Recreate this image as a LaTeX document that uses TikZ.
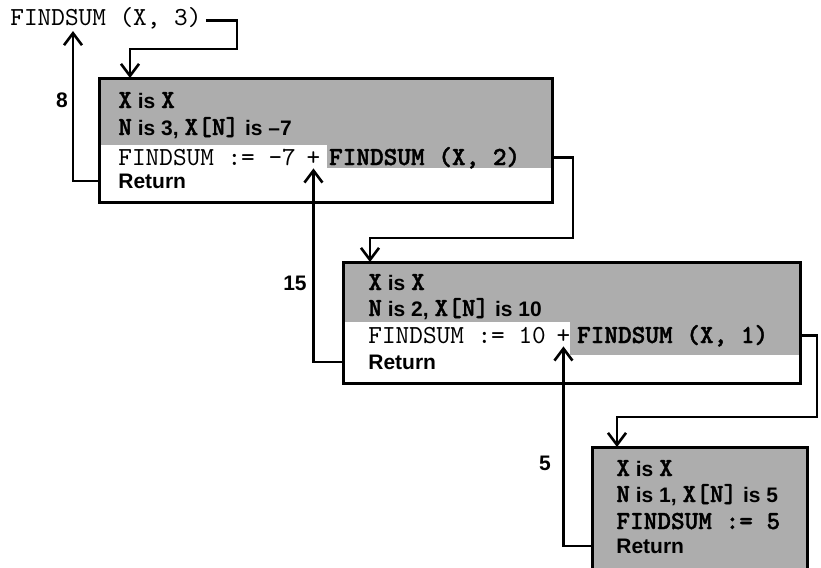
\documentclass[tikz,border=0pt]{standalone}
\usepackage{fontspec}
\setmainfont{Liberation Sans}
\setsansfont{Liberation Sans}
\setmonofont{lmmono10-regular}[Extension=.otf, BoldFont=lmmonolt10-bold, BoldFeatures={FakeBold=1.5}]
\usepackage{xcolor}
\usetikzlibrary{arrows.meta}
\usetikzlibrary{positioning}

\newcommand{\cv}[1]{{\fontsize{13}{15}\selectfont\ttfamily #1}}

\begin{document}
\begin{tikzpicture}[x=0.5pt, y=-0.5pt,
    frame/.style={draw, line width=1.5pt, inner sep=0pt, outer sep=0pt, anchor=north west},
    grayfill/.style={fill=black!32},
    link/.style={line width=1.3pt, -{Straight Barb[length=6pt, width=9pt]}},
    code/.style={font=\fontsize{13}{15}\selectfont\ttfamily, inner sep=0pt, anchor=base west},
    codeb/.style={code, font=\fontsize{13}{15}\selectfont\ttfamily\bfseries},
    txt/.style={font=\fontsize{10.5}{13}\selectfont\sffamily\bfseries, inner sep=0pt, anchor=base west},
    num/.style={font=\fontsize{10.5}{13}\selectfont\sffamily\bfseries, inner sep=0pt}]
    \useasboundingbox (0,0) rectangle (821,568);

    \fill[grayfill] (99,78) rectangle (552,145);
    \fill[grayfill] (327,145) rectangle (552,168);
    \fill[grayfill] (343,262) rectangle (800,322);
    \fill[grayfill] (570,322) rectangle (800,355);

    \node[frame, minimum width=226.5pt, minimum height=62pt] (box1) at (99,78) {};
    \node[frame, minimum width=228.5pt, minimum height=60.5pt] (box2) at (343,262) {};
    \node[frame, grayfill, minimum width=107.5pt, minimum height=70pt] (box3) at (592,447) {};

    \node[code] (call) at (10,25) {FINDSUM (X, 3)};

    \node[txt] (x1) at (118,108) {\cv{\bfseries X} is \cv{\bfseries X}};
    \node[txt] (n1) at (118,135) {\cv{\bfseries N} is 3, \cv{\bfseries X[N]} is --7};
    \node[code] (a1) at (118,165) {FINDSUM := -7};
    \node[code, base right=5pt of a1] (p1) {+};
    \node[codeb, base right=4pt of p1] (f1) {FINDSUM (X, 2)};
    \node[txt] (r1) at (118,188) {Return};

    \node[txt] (x2) at (368,290) {\cv{\bfseries X} is \cv{\bfseries X}};
    \node[txt] (n2) at (368,316) {\cv{\bfseries N} is 2, \cv{\bfseries X[N]} is 10};
    \node[code] (a2) at (368,343) {FINDSUM := 10};
    \node[code, base right=5pt of a2] (p2) {+};
    \node[codeb, base right=3pt of p2] (f2) {FINDSUM (X, 1)};
    \node[txt] (r2) at (368,369) {Return};

    \node[txt] (x3) at (616,476) {\cv{\bfseries X} is \cv{\bfseries X}};
    \node[txt] (n3) at (616,502) {\cv{\bfseries N} is 1, \cv{\bfseries X[N]} is 5};
    \node[codeb] (a3) at (616,529) {FINDSUM := 5};
    \node[txt] (r3) at (616,553) {Return};

    \node[num] (l1) at (62,100) {8};
    \node[num] (l2) at (295,283) {15};
    \node[num] (l3) at (545,463) {5};

    \draw[link] ([xshift=2pt, yshift=-1.5pt]call.east) -| (237,49) -| ([xshift=15.5pt]box1.north west);
    \draw[link] (box1.west |- r1) -| ([xshift=31.5pt, yshift=-1pt]call.south west);
    \draw[link] (box1.east |- f1) -| (573,238) -| ([xshift=13.5pt]box2.north west);
    \draw[link] (box2.west |- r2) -| ([yshift=-1.5pt]p1.south);
    \draw[link] (box2.east |- f2) -| (817,417) -| ([xshift=12.5pt]box3.north west);
    \draw[link] (box3.west |- r3) -| ([yshift=-1.5pt]p2.south);
\end{tikzpicture}
\end{document}
